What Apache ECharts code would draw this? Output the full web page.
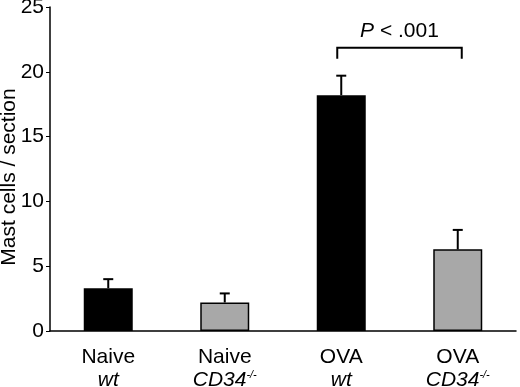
<!DOCTYPE html>
<html>
<head>
<meta charset="utf-8">
<script src="https://cdn.jsdelivr.net/npm/echarts@6/dist/echarts.min.js"></script>
<style>
  html, body { margin: 0; padding: 0; background: #fff; }
  #chart { width: 520px; height: 387px; }
</style>
</head>
<body>
<div id="chart"></div>
<script>
// groups along the x axis
const treatments = ['Naive', 'Naive', 'OVA', 'OVA']
const genotypes = ['wt', 'CD34', 'wt', 'CD34']
const knockout = [false, true, false, true]

// mast cells / section, mean and top of the error bar
const means = [3.3, 2.2, 18.2, 6.3]
const errorTops = [4.0, 2.9, 19.7, 7.8]

const yTicks = [0, 5, 10, 15, 20, 25]

// significance bracket between OVA wt and OVA CD34-/-
const bracketFrom = 2
const bracketTo = 3
const bracketTop = 21.85
const bracketFoot = 21.0
const pText = '< .001'

const labels = treatments.map((t, i) =>
  t + '\n{i|' + genotypes[i] + '}' + (knockout[i] ? '{sup|-/-}' : ''))

const chart = echarts.init(document.getElementById('chart'))

const font = 'Liberation Sans, Arial, sans-serif'

const option = {
  animation: false,
  backgroundColor: '#fff',
  textStyle: { fontFamily: font, color: '#000' },
  grid: {
    left: 50,
    right: 4,
    top: 7,
    bottom: 56,
    containLabel: false,
    outerBoundsMode: 'none'
  },
  xAxis: {
    type: 'category',
    data: labels,
    axisLine: { lineStyle: { color: '#000', width: 1.5 } },
    axisTick: { length: 4, lineStyle: { color: '#000', width: 1 } },
    axisLabel: {
      interval: 0,
      margin: 15,
      color: '#000',
      fontSize: 21,
      lineHeight: 23,
      fontFamily: font,
      rich: {
        i: { fontStyle: 'italic', fontSize: 21, lineHeight: 23, fontFamily: font },
        sup: { fontStyle: 'italic', fontSize: 11, verticalAlign: 'top', lineHeight: 23, fontFamily: font }
      }
    }
  },
  yAxis: {
    type: 'value',
    min: yTicks[0],
    max: yTicks[yTicks.length - 1],
    interval: 5,
    name: 'Mast cells / section',
    nameLocation: 'middle',
    nameGap: 30,
    nameMoveOverlap: false,
    nameTextStyle: { fontSize: 21, color: '#000', fontFamily: font, padding: [0, 16, 0, 0] },
    axisLine: { show: true, lineStyle: { color: '#000', width: 1.5 } },
    axisTick: { show: true, length: 4, lineStyle: { color: '#000' } },
    axisLabel: { margin: 6, fontSize: 21, color: '#000', fontFamily: font, padding: [3, 0, 0, 0] },
    splitLine: { show: false }
  },
  series: [
    {
      type: 'bar',
      barWidth: 49,
      data: means.map((v, i) => ({
        value: v,
        itemStyle: knockout[i]
          ? { color: '#a8a8a8', borderColor: '#000', borderWidth: 1.5 }
          : { color: '#000' }
      }))
    },
    {
      type: 'custom',
      z: 3,
      data: means.map((v, i) => [i, v, errorTops[i]]),
      encode: { x: 0, y: [1, 2] },
      renderItem: function (params, api) {
        const base = api.coord([api.value(0), api.value(1)])
        const top = api.coord([api.value(0), api.value(2)])
        const cap = 5
        const style = { stroke: '#000', lineWidth: 2 }
        return {
          type: 'group',
          children: [
            { type: 'line', shape: { x1: base[0], y1: base[1], x2: top[0], y2: top[1] }, style: style },
            { type: 'line', shape: { x1: top[0] - cap, y1: top[1], x2: top[0] + cap, y2: top[1] }, style: style }
          ]
        }
      }
    },
    {
      type: 'custom',
      z: 3,
      data: [[bracketFrom, bracketTo, bracketTop, bracketFoot]],
      encode: { x: [0, 1], y: [2, 3] },
      renderItem: function (params, api) {
        const a = api.coord([api.value(0), api.value(2)])
        const b = api.coord([api.value(1), api.value(2)])
        const foot = api.coord([api.value(0), api.value(3)])
        const style = { stroke: '#000', lineWidth: 2, fill: null }
        return {
          type: 'group',
          children: [
            {
              type: 'polyline',
              shape: { points: [[a[0] - 4, foot[1]], [a[0] - 4, a[1]], [b[0] + 4, b[1]], [b[0] + 4, foot[1]]] },
              style: style
            },
            {
              type: 'text',
              x: (a[0] + b[0]) / 2,
              y: a[1] - 17,
              style: {
                text: '{i|P} ' + pText,
                align: 'center',
                verticalAlign: 'middle',
                fontSize: 21,
                fontFamily: font,
                fill: '#000',
                rich: {
                  i: { fontStyle: 'italic', fontSize: 21, fontFamily: font }
                }
              }
            }
          ]
        }
      }
    }
  ]
}

chart.setOption(option)

window.addEventListener('resize', () => {
  chart.resize()
})
</script>
</body>
</html>
